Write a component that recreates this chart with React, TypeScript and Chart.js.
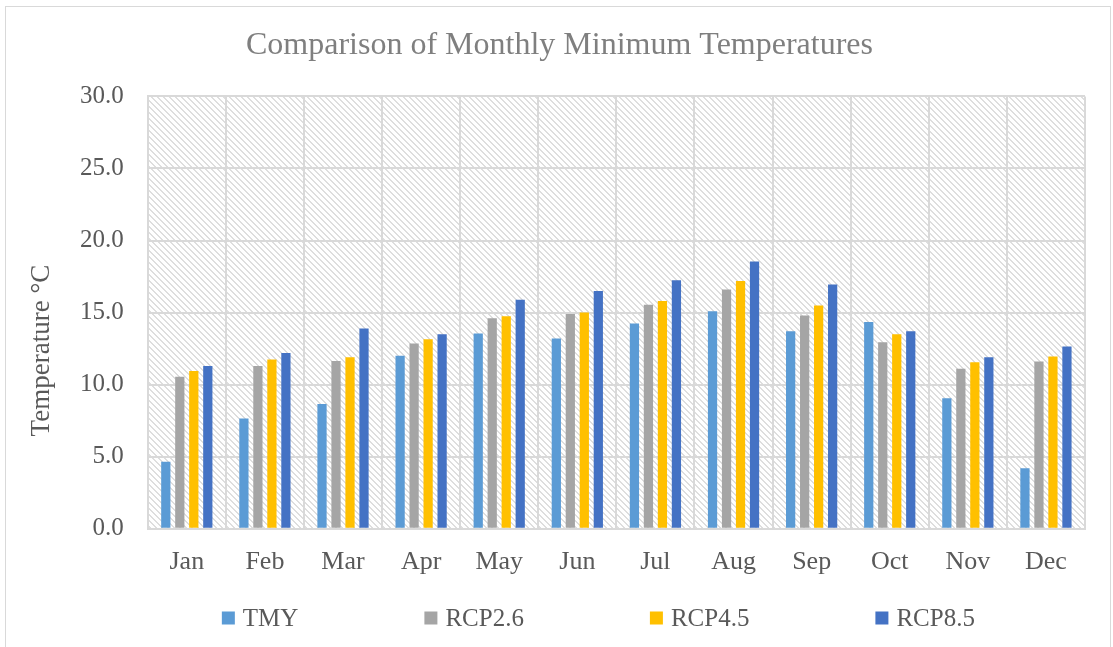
import React, { useEffect, useRef } from "react";
import { Chart, registerables } from "chart.js";

Chart.register(...registerables);

const months = ["Jan", "Feb", "Mar", "Apr", "May", "Jun", "Jul", "Aug", "Sep", "Oct", "Nov", "Dec"];
const tmy = [4.65, 7.65, 8.65, 12.0, 13.55, 13.2, 14.25, 15.1, 13.7, 14.35, 9.05, 4.2];
const rcp26 = [10.55, 11.3, 11.65, 12.85, 14.6, 14.9, 15.55, 16.6, 14.8, 12.95, 11.1, 11.6];
const rcp45 = [10.95, 11.75, 11.9, 13.15, 14.75, 15.0, 15.8, 17.2, 15.5, 13.5, 11.55, 11.95];
const rcp85 = [11.3, 12.2, 13.9, 13.5, 15.9, 16.5, 17.25, 18.55, 16.95, 13.7, 11.9, 12.65];
const seriesLabels = ["TMY", "RCP2.6", "RCP4.5", "RCP8.5"];
const seriesColors = ["#5B9BD5", "#A5A5A5", "#FFC000", "#4472C4"];
const yTicks = [0, 5, 10, 15, 20, 25, 30];
const yTitle = "Temperature °C";

const FONT = "'Liberation Serif', 'Times New Roman', serif";

function makePattern(ctx: CanvasRenderingContext2D) {
  const c = document.createElement("canvas");
  c.width = 6;
  c.height = 6;
  const p = c.getContext("2d")!;
  p.fillStyle = "#ffffff";
  p.fillRect(0, 0, 6, 6);
  p.fillStyle = "#dedede";
  for (let i = 0; i < 6; i++) {
    p.fillRect(i, i, 1, 1);
    p.fillRect((i + 1) % 6, i, 1, 1);
  }
  return ctx.createPattern(c, "repeat");
}

const bgPlugin = {
  id: "hatchBg",
  beforeDraw(chart: any) {
    const { ctx, chartArea } = chart;
    const pat = makePattern(ctx);
    ctx.save();
    ctx.fillStyle = pat || "#eee";
    ctx.fillRect(chartArea.left, chartArea.top, chartArea.right - chartArea.left, chartArea.bottom - chartArea.top);
    ctx.restore();
  },
};

const yTitlePlugin = {
  id: "yTitle",
  afterDraw(chart: any) {
    const { ctx, chartArea } = chart;
    ctx.save();
    ctx.font = `27px ${FONT}`;
    ctx.fillStyle = "#595959";
    ctx.textAlign = "center";
    ctx.textBaseline = "middle";
    ctx.translate(42, (chartArea.top + chartArea.bottom) / 2 + 38);
    ctx.rotate(-Math.PI / 2);
    ctx.fillText(yTitle, 0, 0);
    ctx.restore();
  },
};

const legendPlugin = {
  id: "customLegend",
  afterDraw(chart: any) {
    const { ctx, chartArea } = chart;
    const box = 13;
    const gapText = 8;
    const gapItem = 126;
    ctx.save();
    ctx.font = `25px ${FONT}`;
    ctx.textBaseline = "middle";
    const widths = chart.data.datasets.map((d: any) => box + gapText + ctx.measureText(d.label).width);
    const total = widths.reduce((a: number, b: number) => a + b, 0) + gapItem * (widths.length - 1);
    const cx = (chartArea.left + chartArea.right) / 2 - 18;
    let x = cx - total / 2;
    const y = chart.height - 29;
    chart.data.datasets.forEach((d: any, i: number) => {
      ctx.fillStyle = d.backgroundColor;
      ctx.fillRect(x, y - box / 2, box, box);
      ctx.fillStyle = "#595959";
      ctx.fillText(d.label, x + box + gapText, y + 1);
      x += widths[i] + gapItem;
    });
    ctx.restore();
  },
};

export default function App() {
  const ref = useRef<HTMLCanvasElement | null>(null);

  useEffect(() => {
    if (!ref.current) return;
    const series = [tmy, rcp26, rcp45, rcp85];
    const chart = new Chart(ref.current, {
      type: "bar",
      data: {
        labels: months,
        datasets: series.map((d, i) => ({
          label: seriesLabels[i],
          data: d,
          backgroundColor: seriesColors[i],
          borderWidth: 0,
          categoryPercentage: 0.717,
          barPercentage: 0.66,
        })),
      },
      options: {
        animation: false,
        responsive: false,
        devicePixelRatio: 1,
        layout: { padding: { left: 34, right: 28, top: 0, bottom: 51 } },
        plugins: {
          legend: { display: false },
          tooltip: { enabled: false },
          title: {
            display: true,
            text: "Comparison of Monthly Minimum Temperatures",
            color: "#7f7f7f",
            font: { family: FONT, size: 32, weight: "normal" },
            padding: { top: 26, bottom: 32 },
          },
        },
        scales: {
          x: {
            grid: { color: "#d9d9d9", lineWidth: 2, drawTicks: false, offset: true },
            border: { color: "#d9d9d9", width: 2 },
            ticks: { color: "#595959", font: { family: FONT, size: 26 }, padding: 18 },
          },
          y: {
            min: 0,
            max: 30,
            afterBuildTicks: (scale: any) => {
              scale.ticks = yTicks.map((v) => ({ value: v }));
            },
            afterFit: (scale: any) => {
              scale.width += 22;
            },
            grid: { color: "#d9d9d9", lineWidth: 2, drawTicks: false },
            border: { color: "#d9d9d9", width: 2 },
            ticks: {
              color: "#595959",
              font: { family: FONT, size: 25 },
              padding: 24,
              callback: (v: any) => Number(v).toFixed(1),
            },
          },
        },
      },
      plugins: [bgPlugin, yTitlePlugin, legendPlugin],
    } as any);
    return () => chart.destroy();
  }, []);

  return (
    <div style={{ position: "absolute", left: 0, top: 0, width: 1113, height: 647, background: "#fff", overflow: "hidden" }}>
      <div
        style={{
          position: "absolute",
          left: 5,
          top: 6,
          width: 1106,
          height: 660,
          border: "1px solid #d9d9d9",
          boxSizing: "border-box",
        }}
      />
      <canvas ref={ref} width={1113} height={647} style={{ position: "absolute", left: 0, top: 0, width: 1113, height: 647 }} />
    </div>
  );
}
